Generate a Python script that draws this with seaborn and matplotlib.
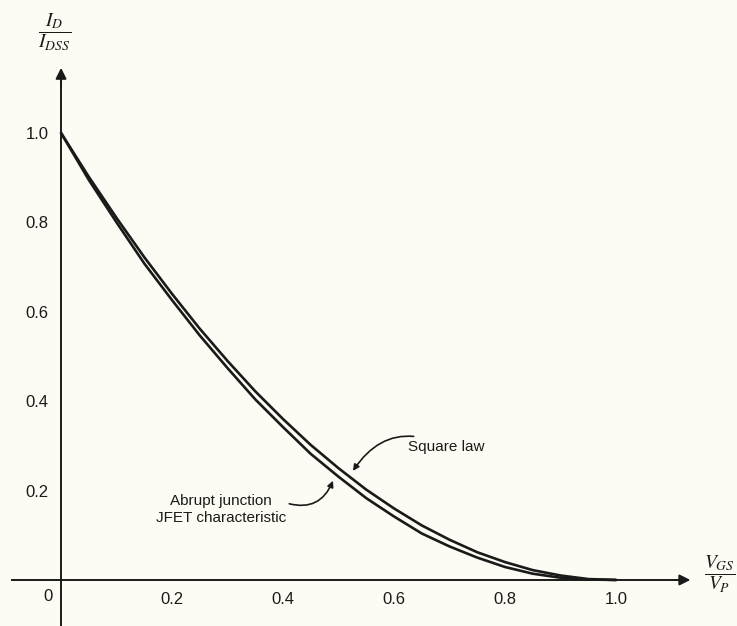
import numpy as np
import pandas as pd
import seaborn as sns
import matplotlib.pyplot as plt

# values (normalised V_GS/V_P vs I_D/I_DSS)
vgs_ratio = [0.0, 0.05, 0.1, 0.15, 0.2, 0.25, 0.3, 0.35, 0.4, 0.45, 0.5,
             0.55, 0.6, 0.65, 0.7, 0.75, 0.8, 0.85, 0.9, 0.95, 1.0]
square_law = [1.0, 0.902, 0.81, 0.722, 0.64, 0.562, 0.49, 0.422, 0.36, 0.302, 0.25,
              0.202, 0.16, 0.122, 0.09, 0.062, 0.04, 0.022, 0.01, 0.002, 0.0]
abrupt_jfet = [1.0, 0.895, 0.80, 0.708, 0.626, 0.547, 0.474, 0.404, 0.342, 0.282, 0.231,
               0.183, 0.142, 0.104, 0.075, 0.05, 0.029, 0.014, 0.005, 0.001, 0.0]
tick_values = [0.2, 0.4, 0.6, 0.8, 1.0]
tick_labels = ["0.2", "0.4", "0.6", "0.8", "1.0"]

sns.set_style("white")
plt.rcParams["font.family"] = ["Liberation Sans", "DejaVu Sans"]
plt.rcParams["mathtext.fontset"] = "stix"

bg = "#fdfcf4"
ink = "#1a1a1a"

df = pd.DataFrame({
    "x": vgs_ratio * 2,
    "y": square_law + abrupt_jfet,
    "curve": ["Square law"] * len(vgs_ratio) + ["Abrupt junction"] * len(vgs_ratio),
})

fig = plt.figure(figsize=(7.37, 6.26), dpi=100, facecolor=bg)
ax = fig.add_axes([0, 0, 1, 1])
ax.set_facecolor(bg)

sns.lineplot(data=df, x="x", y="y", hue="curve", palette=[ink, ink],
             linewidth=1.9, legend=False, ax=ax, sort=False, estimator=None)

ax.set_xlim(-0.110, 1.218)
ax.set_ylim(-0.103, 1.2975)

# axes through the origin
for side in ["top", "right"]:
    ax.spines[side].set_visible(False)
ax.spines["bottom"].set_position(("data", 0))
ax.spines["left"].set_position(("data", 0))
ax.spines["bottom"].set_bounds(-0.088, 1.12)
ax.spines["left"].set_bounds(-0.103, 1.13)
for side in ["bottom", "left"]:
    ax.spines[side].set_linewidth(1.4)
    ax.spines[side].set_color(ink)

# arrow heads
arrow = dict(arrowstyle="-|>", color=ink, lw=1.4, mutation_scale=16)
ax.annotate("", xy=(1.139, 0), xytext=(1.10, 0), arrowprops=arrow)
ax.annotate("", xy=(0, 1.152), xytext=(0, 1.10), arrowprops=arrow)

ax.set_xticks(tick_values)
ax.set_xticklabels(tick_labels)
ax.set_yticks(tick_values)
ax.set_yticklabels(tick_labels)
ax.tick_params(axis="both", direction="in", length=11, width=1.2, color=ink,
               labelsize=12, labelcolor=ink, pad=9)
ax.set_xlabel("")
ax.set_ylabel("")
ax.text(-0.024, -0.038, "0", fontsize=12, color=ink, ha="center", va="center")

# axis titles
ax.text(-0.011, 1.226, r"$\dfrac{I_D}{I_{DSS}}$", fontsize=14, color=ink,
        ha="center", va="center")
ax.text(1.187, 0.012, r"$\dfrac{V_{GS}}{V_P}$", fontsize=14, color=ink,
        ha="center", va="center")

# callouts
ax.annotate("Square law", xy=(0.526, 0.244), xytext=(0.626, 0.2975),
            fontsize=11, color=ink, ha="left", va="center",
            arrowprops=dict(arrowstyle="-|>", color=ink, lw=1.2, mutation_scale=9,
                            shrinkA=2, shrinkB=0,
                            connectionstyle="arc3,rad=0.45"))
ax.annotate("Abrupt junction\nJFET characteristic", xy=(0.49, 0.222),
            xytext=(0.288, 0.157), fontsize=11, color=ink, ha="center",
            va="center", linespacing=1.3,
            arrowprops=dict(arrowstyle="-|>", color=ink, lw=1.2, mutation_scale=9,
                            shrinkA=0, shrinkB=0, relpos=(1.0, 0.72),
                            connectionstyle="arc3,rad=0.45"))

fig.savefig("out.png", dpi=100, facecolor=bg)
